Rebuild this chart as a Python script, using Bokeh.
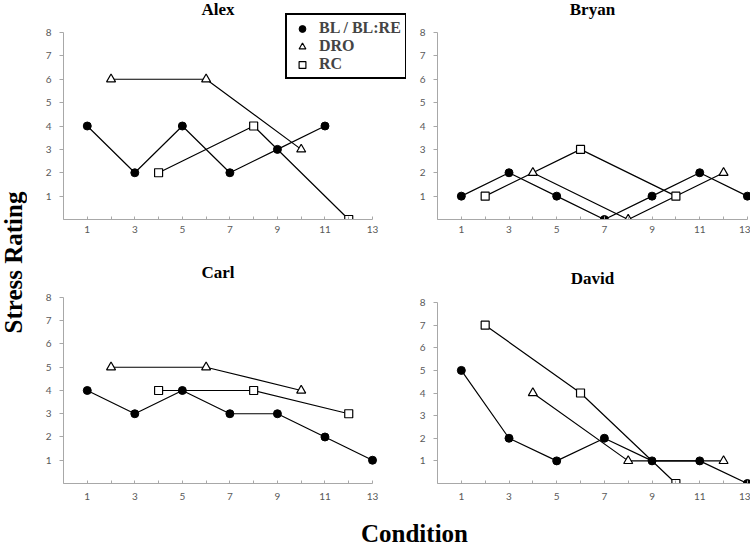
import math
from bokeh.plotting import figure
from bokeh.models import Range1d, FixedTicker, Legend, LegendItem, Label
from bokeh.layouts import row, column
from bokeh.embed import file_html
from bokeh.resources import INLINE

# ---------------- data ----------------
x_ticks = [1, 3, 5, 7, 9, 11, 13]
x_minor = [0, 2, 4, 6, 8, 10, 12]
y_ticks = [1, 2, 3, 4, 5, 6, 7, 8]

alex_bl_x = [1, 3, 5, 7, 9, 11]
alex_bl_y = [4, 2, 4, 2, 3, 4]
alex_dro_x = [2, 6, 10]
alex_dro_y = [6, 6, 3]
alex_rc_x = [4, 8, 12]
alex_rc_y = [2, 4, 0]

bryan_bl_x = [1, 3, 5, 7, 9, 11, 13]
bryan_bl_y = [1, 2, 1, 0, 1, 2, 1]
bryan_dro_x = [4, 8, 12]
bryan_dro_y = [2, 0, 2]
bryan_rc_x = [2, 6, 10]
bryan_rc_y = [1, 3, 1]

carl_bl_x = [1, 3, 5, 7, 9, 11, 13]
carl_bl_y = [4, 3, 4, 3, 3, 2, 1]
carl_dro_x = [2, 6, 10]
carl_dro_y = [5, 5, 4]
carl_rc_x = [4, 8, 12]
carl_rc_y = [4, 4, 3]

david_bl_x = [1, 3, 5, 7, 9, 11, 13]
david_bl_y = [5, 2, 1, 2, 1, 1, 0]
david_dro_x = [4, 8, 12]
david_dro_y = [4, 1, 1]
david_rc_x = [2, 6, 10]
david_rc_y = [7, 4, 0]

legend_labels = ["BL / BL:RE", "DRO", "RC"]

SERIF = "Liberation Serif"
AXIS_GRAY = "#a8a8a8"
LABEL_GRAY = "#595959"


def panel(name, bl, dro, rc, width, height, mbl, x_end, y_end, mbb,
          title_y, x_standoff, legend_loc=None):
    p = figure(width=width, height=height,
               x_range=Range1d(0, x_end), y_range=Range1d(0, y_end),
               output_backend="svg", toolbar_location=None,
               min_border_left=mbl, min_border_right=0,
               min_border_top=0, min_border_bottom=mbb,
               title=None)
    p.outline_line_color = None
    p.xgrid.visible = False
    p.ygrid.visible = False

    for ax in (p.xaxis[0], p.yaxis[0]):
        ax.axis_line_color = AXIS_GRAY
        ax.major_tick_line_color = AXIS_GRAY
        ax.minor_tick_line_color = AXIS_GRAY
        ax.major_label_text_color = LABEL_GRAY
        ax.major_label_text_font = "Lato"
        ax.major_label_text_font_size = "10px"
    xa = p.xaxis[0]
    xa.bounds = (0, 13)
    xa.ticker = FixedTicker(ticks=x_ticks, minor_ticks=x_minor)
    xa.major_tick_in = 3
    xa.major_tick_out = 0
    xa.minor_tick_in = 3
    xa.minor_tick_out = 0
    xa.major_label_standoff = x_standoff
    ya = p.yaxis[0]
    ya.bounds = (0, 8)
    ya.ticker = FixedTicker(ticks=y_ticks, minor_ticks=[])
    ya.major_tick_in = 0
    ya.major_tick_out = 4
    ya.minor_tick_in = 0
    ya.minor_tick_out = 0
    ya.major_label_standoff = 8

    p.add_layout(Label(x=6.5, y=title_y, text=name, text_align="center",
                       text_baseline="middle", text_font=SERIF,
                       text_font_style="bold", text_font_size="17px",
                       text_color="black"))

    for (xs, ys) in (bl, dro, rc):
        p.line(xs, ys, line_color="black", line_width=1.2)
    r_bl = p.scatter(bl[0], bl[1], marker="circle", size=8,
                     fill_color="black", line_color="black")
    r_dro = p.scatter(dro[0], dro[1], marker="triangle", size=9,
                      fill_color="white", line_color="black", line_width=1.2)
    r_rc = p.scatter(rc[0], rc[1], marker="square", size=8,
                     fill_color="white", line_color="black", line_width=1.2)

    if legend_loc is not None:
        items = [LegendItem(label=legend_labels[0], renderers=[r_bl]),
                 LegendItem(label=legend_labels[1], renderers=[r_dro]),
                 LegendItem(label=legend_labels[2], renderers=[r_rc])]
        lg = Legend(items=items, location=legend_loc)
        lg.border_line_color = "black"
        lg.border_line_alpha = 1.0
        lg.border_line_width = 2
        lg.background_fill_color = "white"
        lg.background_fill_alpha = 1
        lg.padding = 4
        lg.spacing = 0
        lg.margin = 0
        lg.glyph_height = 17
        lg.glyph_width = 22
        lg.label_height = 17
        lg.label_standoff = 6
        lg.label_text_font = SERIF
        lg.label_text_font_style = "bold"
        lg.label_text_font_size = "16px"
        lg.label_text_line_height = 1.0
        p.add_layout(lg, "center")
    return p


def blank(width, height):
    f = figure(width=width, height=height,
               x_range=Range1d(0, width), y_range=Range1d(0, height),
               output_backend="svg", toolbar_location=None, title=None,
               min_border=0, x_axis_location=None, y_axis_location=None)
    f.outline_line_color = None
    f.grid.visible = False
    return f


# top row: frame from figure top (0) to 219 px; y unit 23.375 px
alex = panel("Alex", (alex_bl_x, alex_bl_y), (alex_dro_x, alex_dro_y),
             (alex_rc_x, alex_rc_y), 379, 250, 36, 14.43, 9.369, 31,
             title_y=8.98, x_standoff=6, legend_loc=(222, 140))
bryan = panel("Bryan", (bryan_bl_x, bryan_bl_y), (bryan_dro_x, bryan_dro_y),
              (bryan_rc_x, bryan_rc_y), 344, 250, 31, 13.13, 9.369, 31,
              title_y=8.98, x_standoff=6)
# bottom row: frame from row top (250) to 483 px
carl = panel("Carl", (carl_bl_x, carl_bl_y), (carl_dro_x, carl_dro_y),
             (carl_rc_x, carl_rc_y), 379, 258, 36, 14.43, 10.02, 25,
             title_y=9.07, x_standoff=9)
david = panel("David", (david_bl_x, david_bl_y), (david_dro_x, david_dro_y),
              (david_rc_x, david_rc_y), 344, 258, 31, 13.13, 10.30, 25,
              title_y=9.06, x_standoff=9)

left = blank(27, 546)
left.add_layout(Label(x=13, y=284, text="Stress Rating", angle=math.pi / 2,
                      text_align="center", text_baseline="middle",
                      text_font=SERIF, text_font_style="bold",
                      text_font_size="25px", text_color="black"))

bottom = blank(723, 38)
bottom.add_layout(Label(x=387, y=13, text="Condition",
                        text_align="center", text_baseline="middle",
                        text_font=SERIF, text_font_style="bold",
                        text_font_size="25px", text_color="black"))

layout = row(left, column(row(alex, bryan), row(carl, david), bottom))

open("out.html", "w").write(file_html(layout, INLINE, "Stress Rating"))
